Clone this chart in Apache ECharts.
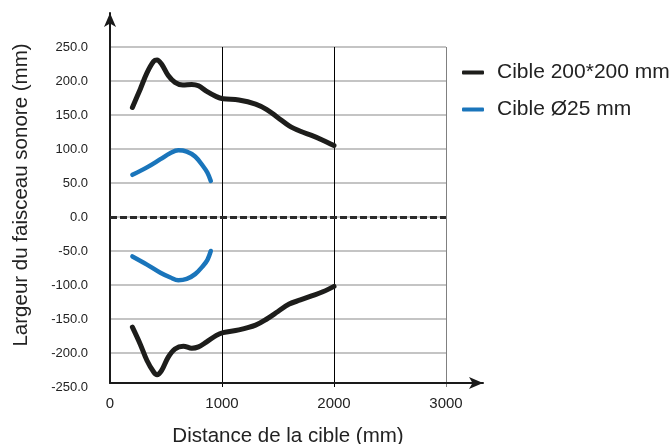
<!DOCTYPE html>
<html>
<head>
<meta charset="utf-8">
<script src="https://cdn.jsdelivr.net/npm/echarts@6/dist/echarts.min.js"></script>
<style>
html,body{margin:0;padding:0;background:#fff;}
#chart{width:672px;height:444px;}
</style>
</head>
<body>
<div id="chart"></div>
<script>
// Distance (mm) and beam width (mm)
const blackTop = [[200,161],[270,188],[330,212],[390,229],[420,231],[460,225],[520,208],[580,198],[650,194],[730,195],[790,193],[860,185],[950,177],[1010,174],[1150,172],[1300,166],[1400,158],[1500,146],[1600,134],[1700,126],[1800,120],[1900,113],[2000,105]];
const blackBottom = [[200,-162],[270,-187],[330,-211],[390,-228],[420,-232],[460,-226],[520,-206],[580,-194],[655,-190],[730,-193],[790,-191],[860,-184],[950,-174],[1010,-170],[1150,-166],[1300,-159],[1400,-150],[1500,-139],[1600,-128],[1700,-122],[1800,-116],[1900,-110],[2000,-102]];
const blueTop = [[200,62],[330,73],[450,85],[540,94],[610,98],[685,96],[760,89],[830,75],[870,65],[900,53]];
const blueBottom = [[200,-58],[330,-70],[450,-82],[540,-89],[610,-93],[685,-91],[760,-84],[830,-72],[870,-63],[900,-50]];
const xTicks = [0, 1000, 2000, 3000];
const legendNames = ['Cible 200*200 mm', 'Cible Ø25 mm'];

const FONT = 'Liberation Sans, Arial, Helvetica, sans-serif';
const BLACK = '#1d1d1b';
const BLUE = '#1a75bb';

const chart = echarts.init(document.getElementById('chart'), null, {renderer:'canvas'});
chart.setOption({
  animation: false,
  backgroundColor: '#fff',
  textStyle: {fontFamily: FONT},
  grid: [
    {left: 110, right: 226, top: 47, bottom: 57, containLabel: false, outerBoundsMode: 'none'},
    {left: 110, right: 189, top: 13, bottom: 61, containLabel: false, outerBoundsMode: 'none'}
  ],
  legend: {
    orient: 'vertical',
    left: 457, top: 57,
    itemWidth: 22, itemHeight: 4, itemGap: 16,
    icon: 'roundRect',
    data: legendNames,
    textStyle: {fontFamily: FONT, fontSize: 21, color: '#222', padding: [0,0,0,8]}
  },
  xAxis: [
    {
      gridIndex: 0, type: 'value', min: xTicks[0], max: xTicks[xTicks.length-1], interval: 1000,
      axisLine: {show: false}, axisTick: {show: false},
      axisLabel: {fontFamily: FONT, fontSize: 15, color: '#222', margin: 9, formatter: v => String(v)},
      splitLine: {show: true, showMinLine: false, lineStyle: {color: ['#000','#000','#808080','#808080'], width: 1}}
    },
    {
      gridIndex: 1, type: 'value', min: 0, max: 1,
      axisLine: {show: true, onZero: true, symbol: ['none','arrow'], symbolSize: [9,14], lineStyle: {color: '#1a1a1a', width: 2}},
      axisTick: {show: false}, axisLabel: {show: false}, splitLine: {show: false},
      name: 'Distance de la cible (mm)', nameLocation: 'middle', nameGap: 43,
      nameTextStyle: {fontFamily: FONT, fontSize: 20.5, color: '#222', padding: [0,17,0,0]}
    }
  ],
  yAxis: [
    {
      gridIndex: 0, type: 'value', min: -250, max: 250, interval: 50,
      axisLine: {show: false}, axisTick: {show: false},
      axisLabel: {fontFamily: FONT, fontSize: 13, color: '#222', margin: 22, padding: [0,0,8,0],
        formatter: v => v.toFixed(1)},
      splitLine: {show: true, showMinLine: false, lineStyle: {color: '#b0b0b0', width: 1.5}}
    },
    {
      gridIndex: 1, type: 'value', min: 0, max: 1,
      axisLine: {show: true, onZero: true, symbol: ['none','arrow'], symbolSize: [9,14], lineStyle: {color: '#1a1a1a', width: 2}},
      axisTick: {show: false}, axisLabel: {show: false}, splitLine: {show: false},
      name: 'Largeur du faisceau sonore (mm)', nameLocation: 'middle', nameGap: 78, nameRotate: 90,
      nameTextStyle: {fontFamily: FONT, fontSize: 20.5, color: '#222', padding: [0,0,0,6]}
    }
  ],
  series: [
    {
      name: legendNames[0], type: 'line', xAxisIndex: 0, yAxisIndex: 0,
      data: blackTop, smooth: 0.35, showSymbol: false, color: BLACK,
      lineStyle: {width: 5, color: BLACK, cap: 'round', join: 'round'},
      markLine: {
        silent: true, symbol: ['none','none'], label: {show: false},
        lineStyle: {type: [7,3], width: 3, color: '#2a2a2a'},
        data: [{yAxis: 0}]
      }
    },
    {
      name: legendNames[0], type: 'line', xAxisIndex: 0, yAxisIndex: 0,
      data: blackBottom, smooth: 0.35, showSymbol: false, color: BLACK,
      lineStyle: {width: 5, color: BLACK, cap: 'round', join: 'round'}
    },
    {
      name: legendNames[1], type: 'line', xAxisIndex: 0, yAxisIndex: 0,
      data: blueTop, smooth: 0.35, showSymbol: false, color: BLUE,
      lineStyle: {width: 4.5, color: BLUE, cap: 'round', join: 'round'}
    },
    {
      name: legendNames[1], type: 'line', xAxisIndex: 0, yAxisIndex: 0,
      data: blueBottom, smooth: 0.35, showSymbol: false, color: BLUE,
      lineStyle: {width: 4.5, color: BLUE, cap: 'round', join: 'round'}
    }
  ]
});
</script>
</body>
</html>
